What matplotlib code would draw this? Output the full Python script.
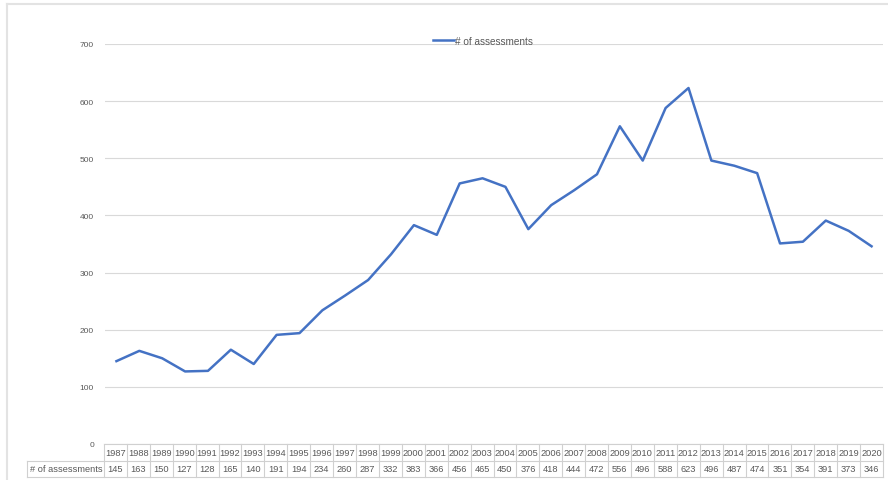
import matplotlib
matplotlib.use("Agg")
import matplotlib.pyplot as plt
from matplotlib.lines import Line2D

years = [1987, 1988, 1989, 1990, 1991, 1992, 1993, 1994, 1995, 1996, 1997, 1998,
         1999, 2000, 2001, 2002, 2003, 2004, 2005, 2006, 2007, 2008, 2009, 2010,
         2011, 2012, 2013, 2014, 2015, 2016, 2017, 2018, 2019, 2020]
assessments = [145, 163, 150, 127, 128, 165, 140, 191, 194, 234, 260, 287,
               332, 383, 366, 456, 465, 450, 376, 418, 444, 472, 556, 496,
               588, 623, 496, 487, 474, 351, 354, 391, 373, 346]
series_name = "# of assessments"
y_ticks = [0, 100, 200, 300, 400, 500, 600, 700]

W, H = 888, 481
TXT = "#595959"
GRID = "#D9D9D9"
BLUE = "#4472C4"
plt.rcParams["font.family"] = ["Liberation Sans Narrow", "Liberation Sans", "DejaVu Sans"]

fig = plt.figure(figsize=(W / 100, H / 100), dpi=100)

# plot area in pixels (left, top, right, bottom)
L, T, R, B = 105, 45, 883, 445
ax = fig.add_axes([L / W, 1 - B / H, (R - L) / W, (B - T) / H])

x = list(range(len(years)))
ax.plot(x, assessments, color=BLUE, lw=1.8, label=series_name, solid_joinstyle="round")
ax.set_xlim(-0.5, len(years) - 0.5)
ax.set_ylim(0, 700)
ax.set_yticks(y_ticks)
ax.set_xticks([])
ax.yaxis.grid(True, color=GRID, lw=0.8)
ax.set_axisbelow(True)
for s in ax.spines.values():
    s.set_visible(False)
ax.tick_params(axis="y", length=0, pad=8, labelsize=6, labelcolor=TXT)

leg = ax.legend(loc="center", bbox_to_anchor=(0.486, 1.008), frameon=False,
                fontsize=7.2, handlelength=2.1, handletextpad=0.15, borderaxespad=0)
for t in leg.get_texts():
    t.set_color(TXT)


def fx(px):
    return px / W


def fy(py):
    return 1 - py / H


# data table below the plot
lc = "#D0D0D0"
fs = 6.7
row1_top, row_mid, row2_bot = 445, 461.5, 477.5
label_left = 27
cw = (R - 104) / len(years)
fig.add_artist(Line2D([fx(104), fx(R)], [fy(row1_top)] * 2, color=lc, lw=0.8))
fig.add_artist(Line2D([fx(label_left), fx(R)], [fy(row_mid)] * 2, color=lc, lw=0.8))
fig.add_artist(Line2D([fx(label_left), fx(R)], [fy(row2_bot)] * 2, color=lc, lw=0.8))
fig.add_artist(Line2D([fx(label_left)] * 2, [fy(row_mid), fy(row2_bot)], color=lc, lw=0.8))
for i in range(len(years) + 1):
    xp = 104 + i * cw
    fig.add_artist(Line2D([fx(xp)] * 2, [fy(row1_top), fy(row2_bot)], color=lc, lw=0.8))
for i, (yr, v) in enumerate(zip(years, assessments)):
    xc = 104 + (i + 0.5) * cw
    fig.text(fx(xc), fy((row1_top + row_mid) / 2), str(yr), ha="center", va="center",
             fontsize=fs, color=TXT)
    fig.text(fx(xc), fy((row_mid + row2_bot) / 2), str(v), ha="center", va="center",
             fontsize=fs, color=TXT)
fig.text(fx(30), fy((row_mid + row2_bot) / 2), series_name, ha="left", va="center",
         fontsize=fs, color=TXT)

# faint chart border on top and left
fig.add_artist(Line2D([fx(7), fx(W)], [fy(5)] * 2, color="#E3E3E3", lw=1.5))
fig.add_artist(Line2D([fx(7)] * 2, [fy(5), 0], color="#E3E3E3", lw=1.5))

fig.savefig("out.png", dpi=100)
